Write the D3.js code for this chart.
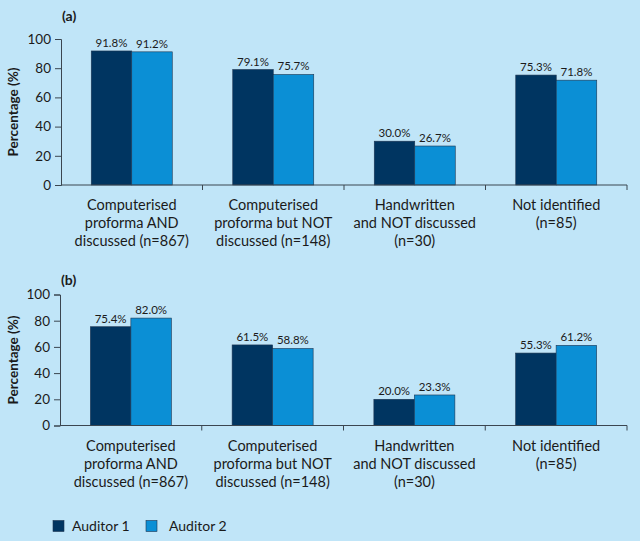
<!DOCTYPE html>
<html><head><meta charset="utf-8">
<script src="https://cdn.jsdelivr.net/npm/d3@7"></script>
<style>
html,body{margin:0;padding:0;background:#c0e5f8;}
svg{display:block;font-family:Lato,"Open Sans",sans-serif;}
</style></head>
<body><svg id="c" width="640" height="541"></svg>
<script>
const categories = [
  ["Computerised","proforma AND","discussed (n=867)"],
  ["Computerised","proforma but NOT","discussed (n=148)"],
  ["Handwritten","and NOT discussed","(n=30)"],
  ["Not identified","(n=85)"]
];
const seriesNames = ["Auditor 1","Auditor 2"];
const colors = ["#003561","#0b8fd5"];
const panelAAuditor1 = [91.8, 79.1, 30.0, 75.3];
const panelAAuditor2 = [91.2, 75.7, 26.7, 71.8];
const panelBAuditor1 = [75.4, 61.5, 20.0, 55.3];
const panelBAuditor2 = [82.0, 58.8, 23.3, 61.2];
const yTicks = [0,20,40,60,80,100];

const svg = d3.select("#c");
svg.append("rect").attr("width",640).attr("height",541).attr("fill","#c0e5f8");

function panel(label, s1, s2, x0, x1, yTop, yBottom, labelY, ylabY, catY) {
  const g = svg.append("g");
  const x = d3.scaleBand().domain(d3.range(categories.length)).range([x0, x1]).paddingInner(0).paddingOuter(0);
  const y = d3.scaleLinear().domain([0,100]).range([yBottom, yTop]);
  const barW = 40.5;
  const data = categories.map((c,i)=>({i, vals:[s1[i], s2[i]]}));
  data.forEach(d=>{
    d.vals.forEach((v,k)=>{
      const bx = x(d.i) + x.bandwidth()/2 - barW + k*barW;
      g.append("rect").attr("x",bx).attr("y",y(v)).attr("width",barW).attr("height",y(0)-y(v))
        .attr("fill",colors[k]).attr("stroke","#1d3550").attr("stroke-width",0.6);
      g.append("text").attr("x",bx+barW/2).attr("y",y(v)-4).attr("text-anchor","middle")
        .attr("font-size",11.5).attr("fill","#1a1a1a").text(v.toFixed(1)+"%");
    });
  });
  // y axis
  const ya = g.append("g").attr("transform",`translate(${x0},0)`)
    .call(d3.axisLeft(y).tickValues(yTicks).tickSize(6).tickPadding(4));
  ya.select(".domain").attr("stroke","#3b4650");
  ya.selectAll(".tick line").attr("stroke","#3b4650");
  ya.selectAll("text").attr("font-size",13.5).attr("fill","#1a1a1a").attr("font-family","Lato,sans-serif");
  // x axis
  const xa = g.append("g").attr("transform",`translate(0,${yBottom})`);
  xa.append("line").attr("x1",x0).attr("x2",x1).attr("stroke","#3b4650");
  d3.range(1,categories.length+1).forEach(i=>{
    const tx = x0 + i*x.bandwidth();
    xa.append("line").attr("x1",tx).attr("x2",tx).attr("y1",0).attr("y2",5).attr("stroke","#3b4650");
  });
  categories.forEach((lines,i)=>{
    lines.forEach((t,j)=>{
      g.append("text").attr("x",x(i)+x.bandwidth()/2).attr("y",catY+j*17.8).attr("text-anchor","middle")
        .attr("font-size",14.5).attr("fill","#1a1a1a").text(t);
    });
  });
  g.append("text").attr("x",x0+1).attr("y",labelY).attr("font-size",14).attr("font-weight","bold").attr("fill","#1a1a1a").text(label);
  g.append("text").attr("transform",`translate(18,${ylabY}) rotate(-90)`).attr("text-anchor","middle")
    .attr("font-size",13.5).attr("font-weight","bold").attr("fill","#1a1a1a").text("Percentage (%)");
}

panel("(a)", panelAAuditor1, panelAAuditor2, 61, 627, 39, 185, 21, 112, 210);
panel("(b)", panelBAuditor1, panelBAuditor2, 60, 627, 294.5, 425.5, 285, 360, 451);

// legend
const lg = svg.append("g");
[[53,72],[146,169]].forEach((p,k)=>{
  lg.append("rect").attr("x",p[0]).attr("y",520.5).attr("width",11).attr("height",11).attr("fill",colors[k]).attr("stroke","#1d3550").attr("stroke-width",0.6);
  lg.append("text").attr("x",p[1]).attr("y",531).attr("font-size",14).attr("fill","#1a1a1a").text(seriesNames[k]);
});
</script></body></html>
